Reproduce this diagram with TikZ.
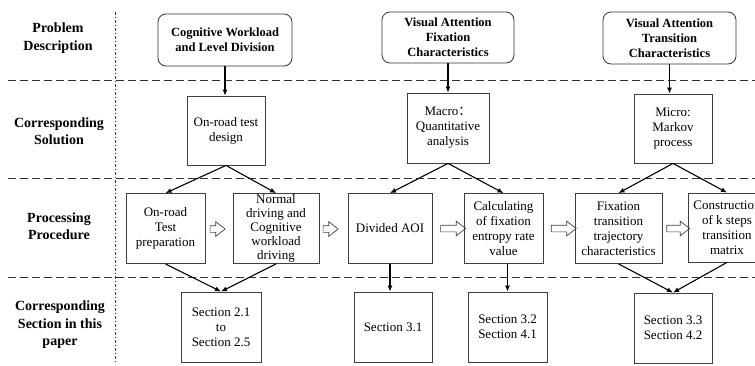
\documentclass[tikz,border=0pt]{standalone}
\usepackage{fontspec}
\setmainfont{Liberation Serif}
\newfontfamily\cjk{Noto Sans CJK SC}
\usetikzlibrary{arrows.meta, shapes.arrows}

\begin{document}
\begin{tikzpicture}[x=1pt, y=-1pt,
    rowlabel/.style={align=center, font=\fontsize{14}{17.5}\selectfont\bfseries},
    topbox/.style={draw=black!80, line width=0.8pt, rounded corners=8pt, align=center,
        minimum height=52pt, font=\fontsize{12.5}{15}\selectfont\bfseries},
    plainbox/.style={draw=black!75, line width=0.8pt, align=center, inner xsep=1pt, inner ysep=0pt,
        font=\fontsize{13}{15}\selectfont},
    flow/.style={black, line width=1.1pt, -{Latex[length=6pt,width=5pt]}},
    blockarrow/.style={draw=black!75, line width=0.7pt, single arrow, inner sep=3pt,
        single arrow head extend=4pt, single arrow tip angle=76, minimum height=#1},
    sepline/.style={black!80, line width=0.8pt, dash pattern=on 8pt off 4pt}]
    \useasboundingbox (0,0) rectangle (755,365);
    \clip (0,0) rectangle (755,365);
    % Row labels
    \node[rowlabel] (rowprob) at (58,38) {Problem\\Description};
    \node[rowlabel] (rowsol) at (59,131) {Corresponding\\Solution};
    \node[rowlabel] (rowproc) at (59,226) {Processing\\Procedure};
    \node[rowlabel] (rowsec) at (60,325) {Corresponding\\Section in this\\paper};
    % Separators
    \draw[black!80, line width=0.8pt, dash pattern=on 3pt off 2pt on 1pt off 2pt] (115,12) -- (115,363);
    \foreach \y in {80,178,277}
        \draw[sepline] (8,\y) -- (755,\y);
    % Problem description
    \node[topbox, minimum width=134pt] (prob1) at (225,40) {Cognitive Workload\\and Level Division};
    \node[topbox, minimum width=132pt, minimum height=51pt] (prob2) at (448,37.5) {Visual Attention\\Fixation\\Characteristics};
    \node[topbox, minimum width=133pt] (prob3) at (669.5,38) {Visual Attention\\Transition\\Characteristics};
    % Corresponding solution
    \node[plainbox, minimum width=78pt, minimum height=69pt] (sol1) at (226,130.5) {On-road test\\design};
    \node[plainbox, minimum width=82pt, minimum height=70pt] (sol2) at (448,128) {Macro{\cjk ：}\\Quantitative\\analysis};
    \node[plainbox, minimum width=78pt, minimum height=69pt] (sol3) at (673,128.5) {Micro:\\Markov\\process};
    % Processing procedure
    \node[plainbox, minimum width=79pt, minimum height=70pt] (proc1) at (165.5,228.5) {On-road\\Test\\preparation};
    \node[plainbox, minimum width=86pt, minimum height=70pt, font=\fontsize{13}{14}\selectfont] (proc2) at (276,228.5) {Normal\\driving and\\Cognitive\\workload\\driving};
    \node[plainbox, minimum width=84pt, minimum height=70pt] (proc3) at (390,228.5) {Divided AOI};
    \node[plainbox, minimum width=79pt, minimum height=70pt] (proc4) at (503.5,228.5) {Calculating\\of fixation\\entropy rate\\value};
    \node[plainbox, minimum width=87pt, minimum height=70pt] (proc5) at (618.5,228.5) {Fixation\\transition\\trajectory\\characteristics};
    \node[plainbox, minimum width=78pt, minimum height=69pt] (proc6) at (727,227.5) {Construction\\of k steps\\transition\\matrix};
    \node[blockarrow=15pt] (ba1) at (215.5,229) {};
    \node[blockarrow=15pt] (ba2) at (328.5,229) {};
    \node[blockarrow=25pt] (ba3) at (451,228.5) {};
    \node[blockarrow=25pt] (ba4) at (561.5,228.5) {};
    \node[blockarrow=23pt] (ba5) at (676,228.5) {};
    % Corresponding section
    \node[plainbox, minimum width=80pt, minimum height=70pt] (sec1) at (221,327) {Section 2.1\\to\\Section 2.5};
    \node[plainbox, minimum width=78pt, minimum height=70pt] (sec2) at (393,327) {Section 3.1};
    \node[plainbox, minimum width=79pt, minimum height=70pt] (sec3) at (507.5,327) {Section 3.2\\Section 4.1};
    \node[plainbox, minimum width=78pt, minimum height=70pt] (sec4) at (673,328) {Section 3.3\\Section 4.2};
    % Arrows
    \draw[flow] (prob1.south) -- (prob1.south |- sol1.north);
    \draw[flow] (prob2.south) -- (sol2.north);
    \draw[flow] (prob3.south) -- (prob3.south |- sol3.north);
    \foreach \s/\a/\b in {sol1/proc1/proc2, sol2/proc3/proc4, sol3/proc5/proc6} {
        \draw[flow] (\s.south) -- (\a.north);
        \draw[flow] (\s.south) -- (\b.north);
    }
    \draw[flow] (proc1.south) -- (sec1.north);
    \draw[flow] (proc2.south) -- (sec1.north);
    \draw[flow] (proc3.south) -- (proc3.south |- sec2.north);
    \draw[flow] (sec3.north |- proc4.south) -- (sec3.north);
    \draw[flow] (proc5.south) -- (sec4.north);
    \draw[flow] (proc6.south) -- (sec4.north);
\end{tikzpicture}
\end{document}
